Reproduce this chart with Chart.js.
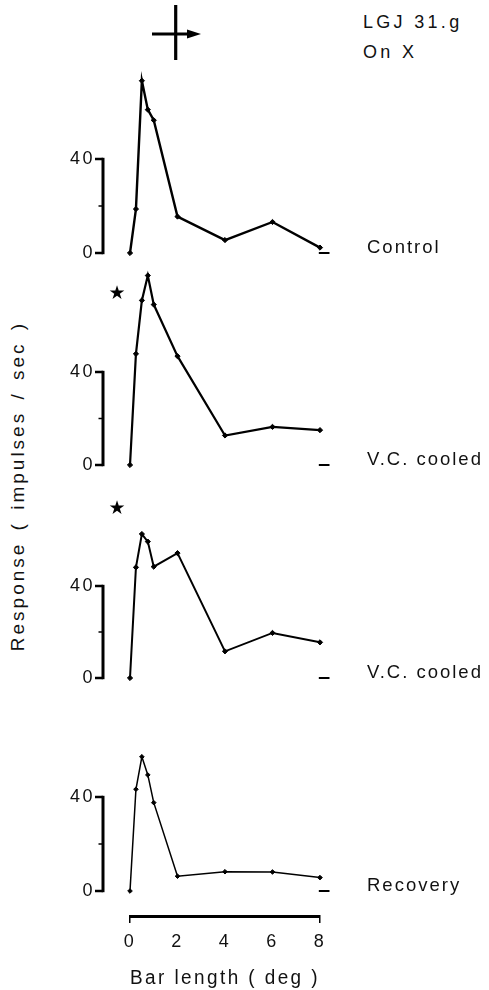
<!DOCTYPE html>
<html lang="en">
<head>
<meta charset="UTF-8">
<title>LGJ 31.g - bar length tuning</title>
<script src="https://cdn.jsdelivr.net/npm/chart.js"></script>
<style>
  body {
    margin: 0;
    background: #fff;
    width: 489px;
    height: 990px;
    position: relative;
    overflow: hidden;
    font-family: "Liberation Sans", Arial, sans-serif;
    color: #111;
  }
  canvas { position: absolute; left: 0; }
  .note {
    position: absolute;
    font-size: 18px;
    letter-spacing: 3.3px;
    line-height: 20px;
    white-space: nowrap;
  }
  #ytitle {
    position: absolute;
    left: -181.6px;
    top: 475.5px;
    width: 400px;
    text-align: center;
    transform: rotate(-90deg);
    font-size: 19px;
    letter-spacing: 3px;
    word-spacing: 3px;
    line-height: 20px;
    white-space: nowrap;
  }
</style>
</head>
<body>
  <!-- stimulus: bar with direction of motion -->
  <svg width="489" height="70" style="position:absolute;left:0;top:0">
    <line x1="175.7" y1="5" x2="175.7" y2="60" stroke="#000" stroke-width="3.2"/>
    <line x1="152" y1="34" x2="190" y2="34" stroke="#000" stroke-width="3"/>
    <polygon points="187,29.5 201,34 187,38.5" fill="#000"/>
  </svg>
  <div class="note" style="left:363px;top:12px">LGJ 31.g</div>
  <div class="note" style="left:363px;top:42px">On X</div>
  <div id="ytitle">Response ( impulses / sec )</div>

  <script>
    // data
    const barLength = [0, 0.25, 0.5, 0.75, 1, 2, 4, 6, 8];
    const control   = [0, 18.7, 73.3, 61, 56.5, 15.5, 5.5, 13.2, 2.3];
    const cooled1   = [0, 47.8, 70.8, 81.5, 69, 46.8, 12.7, 16.4, 15];
    const cooled2   = [0, 48.1, 62.6, 59.3, 48.4, 54.3, 11.6, 19.6, 15.5];
    const recovery  = [0, 43.3, 57.1, 49.4, 37.6, 6.3, 8.2, 8.1, 5.7];
    const conditions = ['Control', 'V.C. cooled', 'V.C. cooled', 'Recovery'];
    const spontaneous = [0, 0, 0, 0];      // short dash right of each curve
    const spontSpan = [7.95, 8.4];
    const starred = [false, true, true, false];
    const starAt = [-0.55, 73.6];
    const xTicks = [0, 2, 4, 6, 8];
    const yTicks = [0, 40];

    const series = [control, cooled1, cooled2, recovery];

    // page layout (pixels)
    const base  = [253, 465, 678, 891];   // row of 0 in each panel
    const top40 = [159, 372, 586, 797];   // row of 40 in each panel
    const ABOVE = 202;
    const BELOW = 14;
    const BELOW_LAST = 25;
    const AXIS_H = 74;
    const lineW = [2.4, 2.2, 2, 1.5];
    const FONT = '"Liberation Sans", Arial, sans-serif';

    Chart.defaults.font.family = FONT;
    Chart.defaults.color = '#111';

    const panelDecor = {
      id: 'panelDecor',
      beforeLayout(chart) { chart.ctx.letterSpacing = '2.5px'; },
      beforeDraw(chart) { chart.ctx.letterSpacing = '2.5px'; },
      afterDraw(chart, args, opts) {
        const { ctx } = chart;
        const x = chart.scales.x, y = chart.scales.y;
        const ax = chart.chartArea.left - 27;
        const y0 = y.getPixelForValue(0);
        const y20 = y.getPixelForValue(20);
        const y40 = y.getPixelForValue(40);
        ctx.save();
        ctx.strokeStyle = '#000';
        ctx.lineCap = 'butt';
        // bracket axis 0..40
        ctx.lineWidth = 3;
        ctx.beginPath();
        ctx.moveTo(ax, y40 - 1.2);
        ctx.lineTo(ax, y0 + 1.2);
        ctx.stroke();
        ctx.lineWidth = 2.4;
        ctx.beginPath();
        ctx.moveTo(ax - 8, y40); ctx.lineTo(ax, y40);
        ctx.moveTo(ax - 8, y0); ctx.lineTo(ax, y0);
        ctx.stroke();
        ctx.lineWidth = 1.5;
        ctx.beginPath();
        ctx.moveTo(ax - 4.5, y20); ctx.lineTo(ax, y20);
        ctx.stroke();

        ctx.fillStyle = '#111';
        ctx.font = '18.5px ' + FONT;
        ctx.letterSpacing = '2px';
        ctx.textAlign = 'left';
        ctx.textBaseline = 'alphabetic';
        ctx.fillText(opts.label, x.getPixelForValue(8) + 47, y0);

        if (opts.star) {
          ctx.letterSpacing = '0px';
          ctx.fillStyle = '#000';
          ctx.font = '19px "DejaVu Sans"';
          ctx.textAlign = 'center';
          ctx.textBaseline = 'middle';
          ctx.fillText('\u2605', x.getPixelForValue(starAt[0]), y.getPixelForValue(starAt[1]));
        }
        ctx.restore();
      }
    };

    series.forEach((vals, i) => {
      const last = i === series.length - 1;
      const k = (base[i] - top40[i]) / 40;
      const below = last ? BELOW_LAST : BELOW;
      const h = ABOVE + below + (last ? AXIS_H : 0);

      const cv = document.createElement('canvas');
      cv.width = 489;
      cv.height = h;
      cv.style.top = (base[i] - ABOVE) + 'px';
      document.body.appendChild(cv);

      new Chart(cv, {
        type: 'line',
        data: {
          datasets: [{
            data: barLength.map((b, j) => ({ x: b, y: vals[j] })),
            borderColor: '#000',
            borderWidth: lineW[i],
            pointStyle: 'rectRot',
            pointRadius: last ? 2.3 : 2.6,
            pointBackgroundColor: '#000',
            pointBorderColor: '#000',
            pointBorderWidth: 1,
            tension: 0,
            clip: false
          }, {
            data: spontSpan.map(b => ({ x: b, y: spontaneous[i] })),
            borderColor: '#000',
            borderWidth: 2,
            pointRadius: 0,
            clip: false
          }]
        },
        options: {
          responsive: false,
          maintainAspectRatio: false,
          animation: false,
          events: [],
          layout: { autoPadding: false, padding: { left: 0, right: 169, top: 0, bottom: 0 } },
          plugins: {
            legend: { display: false },
            tooltip: { enabled: false },
            panelDecor: { label: conditions[i], star: starred[i] }
          },
          scales: {
            x: {
              type: 'linear',
              min: 0,
              max: 8,
              display: last,
              afterBuildTicks: s => { s.ticks = xTicks.map(v => ({ value: v })); },
              afterFit: s => {
                s.height = last ? AXIS_H : 0;
                s.paddingLeft = 0;
                s.paddingRight = 0;
              },
              border: { display: true, color: '#000', width: 3 },
              grid: {
                drawOnChartArea: false,
                drawTicks: true,
                tickLength: 7,
                lineWidth: 1.5,
                color: c => (c.tick && (c.tick.value === 0 || c.tick.value === 8)) ? '#000' : 'rgba(0,0,0,0)'
              },
              ticks: { font: { size: 18 }, color: '#111', padding: 8, maxRotation: 0 },
              title: {
                display: true,
                text: 'Bar length ( deg )',
                font: { size: 19.5 },
                color: '#111',
                padding: { top: 0, bottom: 0 }
              }
            },
            y: {
              min: -below / k,
              max: ABOVE / k,
              afterFit: s => {
                s.width = 130;
                s.paddingTop = 0;
                s.paddingBottom = 0;
              },
              afterBuildTicks: s => { s.ticks = yTicks.map(v => ({ value: v })); },
              border: { display: false },
              grid: { display: false, drawTicks: false },
              ticks: { font: { size: 18 }, color: '#111', padding: 35 }
            }
          }
        },
        plugins: [panelDecor]
      });
    });
  </script>
</body>
</html>
